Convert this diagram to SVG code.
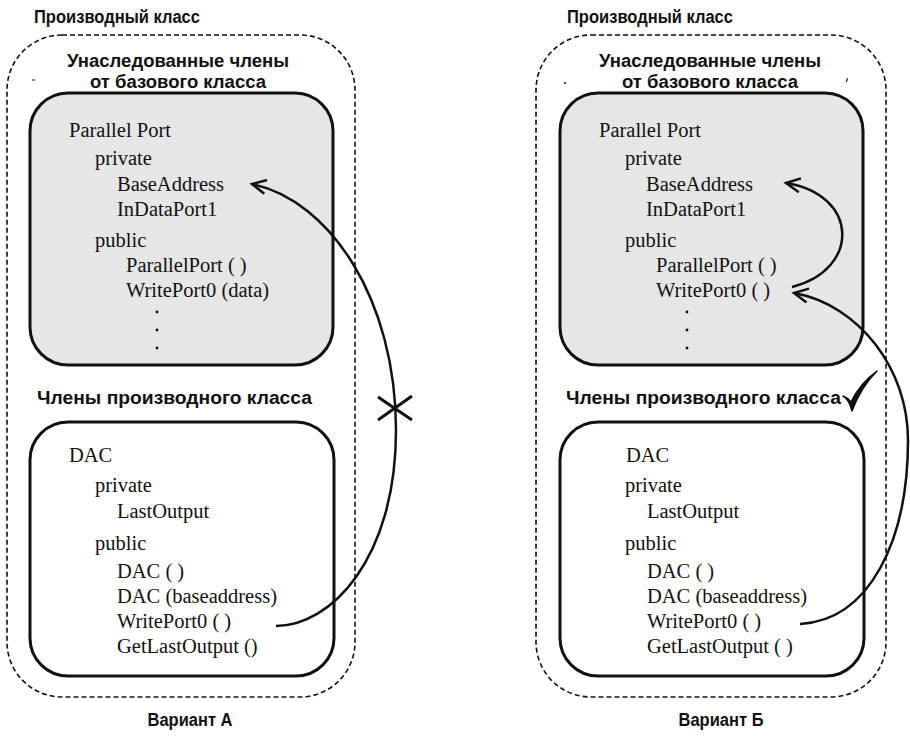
<svg xmlns="http://www.w3.org/2000/svg" width="910" height="736" viewBox="0 0 910 736">
<defs>
<style>
.h{font-family:"Liberation Sans",Arial,sans-serif;font-weight:bold;font-size:18px;fill:#111}
.t{font-family:"Liberation Serif","Times New Roman",serif;font-size:20.5px;fill:#111}
.outer{fill:none;stroke:#111;stroke-width:1.6;stroke-dasharray:5 3}
.base{fill:#e6e6e6;stroke:#111;stroke-width:3}
.der{fill:#fff;stroke:#111;stroke-width:3}
.con{fill:none;stroke:#111;stroke-width:2.5}
.dot{fill:#111}
</style>
<marker id="arr" markerUnits="userSpaceOnUse" markerWidth="20" markerHeight="20" refX="15" refY="8" orient="auto">
<path d="M1,1 L15,8 L1,15" fill="none" stroke="#111" stroke-width="2.5"/>
</marker>
</defs>
<rect width="910" height="736" fill="#fff"/>

<g id="variantA">
<text class="h" x="34" y="23" textLength="166" lengthAdjust="spacingAndGlyphs">Производный класс</text>
<rect class="outer" x="7" y="35" width="348" height="662" rx="55"/>
<text class="h" x="178" y="67" text-anchor="middle" textLength="222" lengthAdjust="spacingAndGlyphs">Унаследованные члены</text>
<text class="h" x="178" y="88" text-anchor="middle" textLength="176" lengthAdjust="spacingAndGlyphs">от базового класса</text>
<path d="M32,80 h3" stroke="#111" stroke-width="1"/>
<g id="baseA">
<rect class="base" x="30" y="93" width="303" height="272" rx="38"/>
<text class="t" x="69" y="137">Parallel Port</text>
<text class="t" x="95" y="165">private</text>
<text class="t" x="117" y="191">BaseAddress</text>
<text class="t" x="117" y="216">InDataPort1</text>
<text class="t" x="95" y="247">public</text>
<text class="t" x="126" y="272">ParallelPort ( )</text>
<text class="t" x="126" y="297">WritePort0 (data)</text>
<circle class="dot" cx="157" cy="312" r="1.4"/>
<circle class="dot" cx="157" cy="330" r="1.4"/>
<circle class="dot" cx="157" cy="348" r="1.4"/>
</g>
<text class="h" x="37" y="404" textLength="275" lengthAdjust="spacingAndGlyphs">Члены производного класса</text>
<g id="derA">
<rect class="der" x="30" y="422" width="304" height="254" rx="38"/>
<text class="t" x="69" y="462">DAC</text>
<text class="t" x="95" y="492">private</text>
<text class="t" x="117" y="518">LastOutput</text>
<text class="t" x="95" y="550">public</text>
<text class="t" x="117" y="578">DAC ( )</text>
<text class="t" x="117" y="603">DAC (baseaddress)</text>
<text class="t" x="117" y="628">WritePort0 ( )</text>
<text class="t" x="117" y="653">GetLastOutput ()</text>
</g>
<text class="h" x="190" y="726" text-anchor="middle" textLength="85" lengthAdjust="spacingAndGlyphs">Вариант А</text>
</g>

<g id="variantB">
<text class="h" x="567" y="23" textLength="166" lengthAdjust="spacingAndGlyphs">Производный класс</text>
<rect class="outer" x="536" y="35" width="350" height="662" rx="55"/>
<text class="h" x="710" y="67" text-anchor="middle" textLength="222" lengthAdjust="spacingAndGlyphs">Унаследованные члены</text>
<text class="h" x="710" y="88" text-anchor="middle" textLength="176" lengthAdjust="spacingAndGlyphs">от базового класса</text>
<circle class="dot" cx="565" cy="83" r="1"/>
<path d="M847,78 q1,2 -1,4" stroke="#111" stroke-width="1.2" fill="none"/>
<g id="baseB">
<rect class="base" x="560" y="93" width="303" height="272" rx="38"/>
<text class="t" x="599" y="137">Parallel Port</text>
<text class="t" x="625" y="165">private</text>
<text class="t" x="646" y="191">BaseAddress</text>
<text class="t" x="646" y="216">InDataPort1</text>
<text class="t" x="625" y="247">public</text>
<text class="t" x="656" y="272">ParallelPort ( )</text>
<text class="t" x="656" y="297">WritePort0 ( )</text>
<circle class="dot" cx="687" cy="312" r="1.4"/>
<circle class="dot" cx="687" cy="330" r="1.4"/>
<circle class="dot" cx="687" cy="348" r="1.4"/>
</g>
<text class="h" x="566" y="404" textLength="275" lengthAdjust="spacingAndGlyphs">Члены производного класса</text>
<g id="derB">
<rect class="der" x="560" y="422" width="304" height="254" rx="38"/>
<text class="t" x="626" y="462">DAC</text>
<text class="t" x="625" y="492">private</text>
<text class="t" x="647" y="518">LastOutput</text>
<text class="t" x="625" y="550">public</text>
<text class="t" x="647" y="578">DAC ( )</text>
<text class="t" x="647" y="603">DAC (baseaddress)</text>
<text class="t" x="647" y="628">WritePort0 ( )</text>
<text class="t" x="647" y="653">GetLastOutput ( )</text>
</g>
<text class="h" x="721" y="726" text-anchor="middle" textLength="85" lengthAdjust="spacingAndGlyphs">Вариант Б</text>
</g>

<g id="connectors">
<path class="con" d="M276,626 C330,626 396,560 396,430 C396,300 330,200 252,184" marker-end="url(#arr)"/>
<path d="M378,397 L412,420 M378,420 L412,396" stroke="#111" stroke-width="3"/>
<path class="con" d="M792,287 C860,270 860,195 786,183" marker-end="url(#arr)"/>
<path class="con" d="M800,624 C870,620 908,540 908,440 C908,370 860,305 794,293" marker-end="url(#arr)"/>
<path d="M843,396 Q849,399 852,411 Q861,387 877,371 Q860,383 851,402 Q848,398 843,396 Z" fill="#111" stroke="#111" stroke-width="1.5" stroke-linejoin="round"/>
</g>
</svg>
